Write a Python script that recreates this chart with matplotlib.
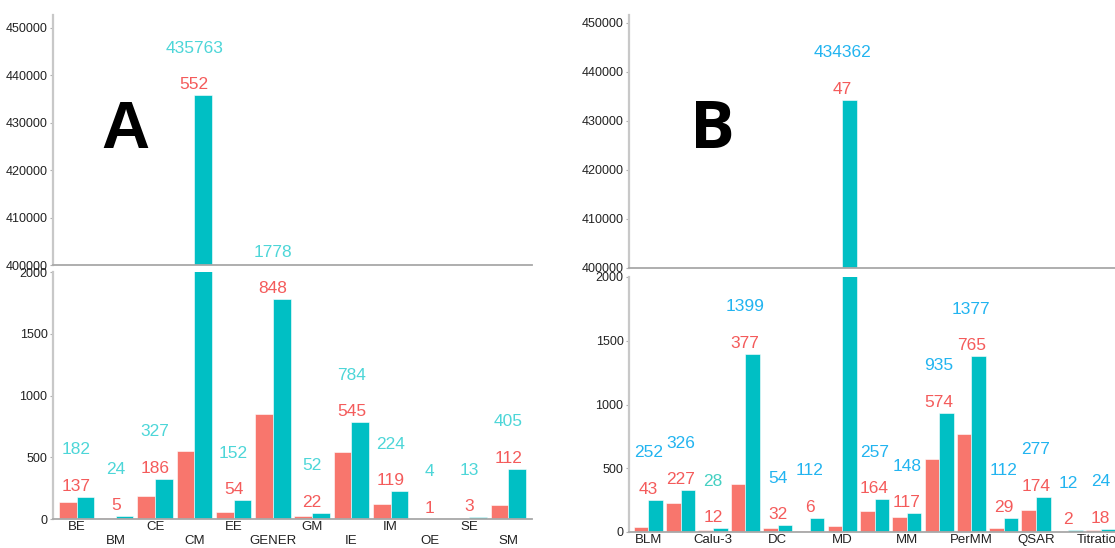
import matplotlib
matplotlib.use("Agg")
import matplotlib.pyplot as plt
import numpy as np

plt.rcParams['font.family'] = ['Liberation Sans', 'DejaVu Sans']

# Data, panel A
cats_a = ["BE", "BM", "CE", "CM", "EE", "GENER", "GM", "IE", "IM", "OE", "SE", "SM"]
red_a = [137, 5, 186, 552, 54, 848, 22, 545, 119, 1, 3, 112]
cyan_a = [182, 24, 327, 435763, 152, 1778, 52, 784, 224, 4, 13, 405]

# Data, panel B (only every other category name is shown on the axis)
ticks_b = ["BLM", "", "Calu-3", "", "DC", "", "MD", "", "MM", "", "PerMM", "", "QSAR", "", "Titration"]
red_b = [43, 227, 12, 377, 32, 6, 47, 164, 117, 574, 765, 29, 174, 2, 18]
cyan_b = [252, 326, 28, 1399, 54, 112, 434362, 257, 148, 935, 1377, 112, 277, 12, 24]

RED = "#F8766D"
TEAL = "#00BFC4"
RED_TXT = "#F45B5B"
W, H = 1115, 548

fig = plt.figure(figsize=(W / 100, H / 100), dpi=100)


def box(x0, x1, ytop, ybot):
    return [x0 / W, 1 - ybot / H, (x1 - x0) / W, (ybot - ytop) / H]


def style(ax):
    for s in ["top", "right"]:
        ax.spines[s].set_visible(False)
    ax.spines["left"].set_color("#C8C8C8")
    ax.spines["left"].set_linewidth(1.6)
    ax.spines["bottom"].set_color("#A8A8A8")
    ax.spines["bottom"].set_linewidth(1.3)
    ax.set_facecolor("none")
    ax.tick_params(axis="y", length=2, width=0.8, color="#B0B0B0", pad=2,
                   labelsize=9, labelcolor="#222222")


def panel(x0, x1, up_top, up_bot, lo_top, lo_bot, up_max, labels, red, cyan,
          cyan_txt, dodge, letter, letter_xy, letter_font):
    n = len(red)
    x = np.arange(n)
    lo = fig.add_axes(box(x0, x1, lo_top, lo_bot))
    up = fig.add_axes(box(x0, x1, up_top, up_bot))
    for ax in (lo, up):
        ax.bar(x - 0.225, red, 0.45, color=RED, edgecolor="white", linewidth=0.4)
        ax.bar(x + 0.225, cyan, 0.45, color=TEAL, edgecolor="white", linewidth=0.4)
        ax.set_xlim(-0.6, n - 1 + 0.6)
    lo.set_ylim(0, 2000)
    lo.set_yticks([0, 500, 1000, 1500, 2000])
    up.set_ylim(400000, up_max)
    up.set_yticks(np.arange(400000, 450001, 10000))
    style(lo)
    style(up)
    up.set_xticks([])

    lo.set_xticks(x)
    lo.set_xticklabels(labels, fontsize=9.5, color="#222222")
    lo.tick_params(axis="x", length=0)
    for i, t in enumerate(lo.xaxis.get_major_ticks()):
        t.set_pad(11.5 if (dodge and i % 2 == 1) else 1.5)

    for i in range(n):
        top = max(red[i], cyan[i])
        ax = up if top > 2000 else lo
        ax.annotate(str(red[i]), (x[i], top), xytext=(0, 6), textcoords="offset pixels",
                    ha="center", va="baseline", fontsize=12.5, color=RED_TXT,
                    annotation_clip=False)
        ax.annotate(str(cyan[i]), (x[i], top), xytext=(0, 42.5), textcoords="offset pixels",
                    ha="center", va="baseline", fontsize=12.5, color=cyan_txt[i],
                    annotation_clip=False)
    fig.text(letter_xy[0] / W, 1 - letter_xy[1] / H, letter, fontsize=48,
             fontweight="bold", family=letter_font, ha="center", va="center")


cyan_txt_a = ["#4DD6D8"] * len(cats_a)
cyan_txt_b = ["#22B4F0"] * len(ticks_b)
cyan_txt_b[2] = "#45D0C2"

panel(53, 532, 15, 265, 272, 519, 452700, cats_a, red_a, cyan_a, cyan_txt_a, True,
      "A", (125, 131), ["Liberation Sans", "DejaVu Sans"])
panel(629, 1120, 15, 268, 277, 532, 451600, ticks_b, red_b, cyan_b, cyan_txt_b, False,
      "B", (712, 131), ["Open Sans", "DejaVu Sans"])

fig.savefig("out.png", dpi=100)
